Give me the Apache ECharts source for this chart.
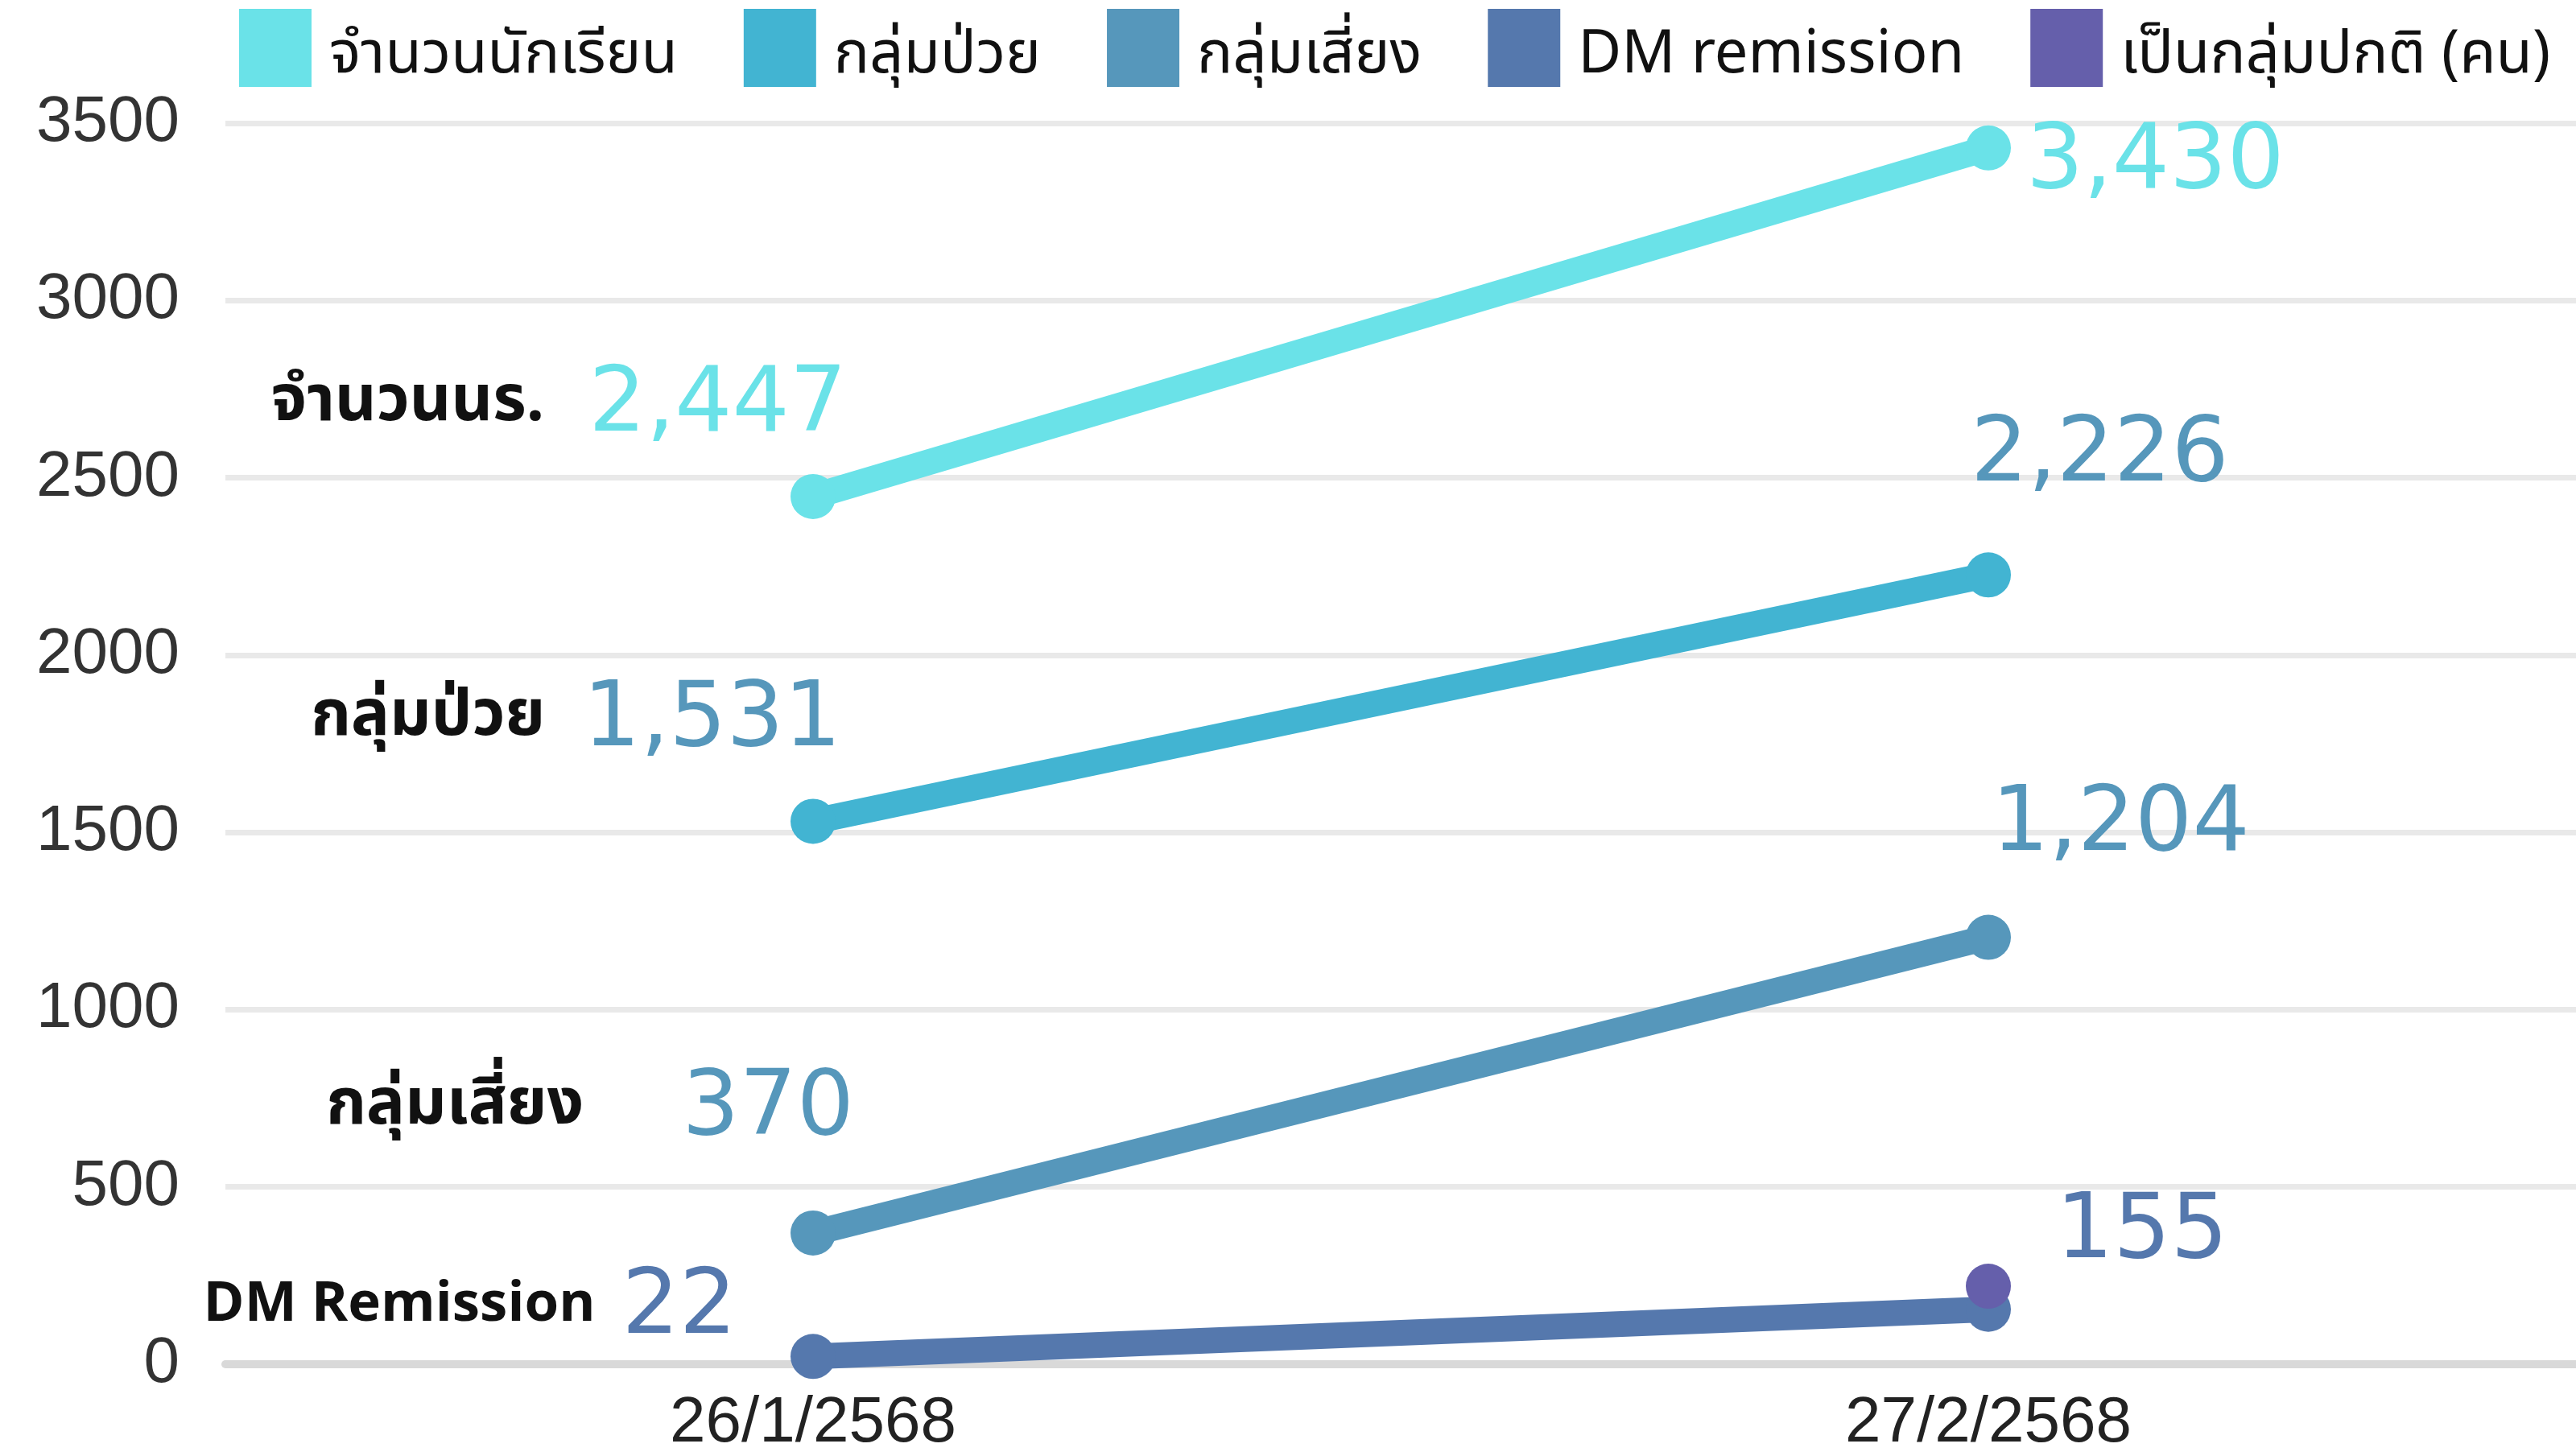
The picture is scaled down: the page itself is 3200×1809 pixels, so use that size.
<!DOCTYPE html>
<html>
<head>
<meta charset="utf-8">
<script src="https://cdn.jsdelivr.net/npm/echarts@6/dist/echarts.min.js"></script>
<style>
  html, body { margin: 0; padding: 0; background: #fff; }
  #chart { width: 3200px; height: 1809px; }
</style>
</head>
<body>
<div id="chart"></div>
<script>
// categories + values
const dates = ['26/1/2568', '27/2/2568'];
const seriesNames = ['จำนวนนักเรียน', 'กลุ่มป่วย', 'กลุ่มเสี่ยง', 'DM remission', 'เป็นกลุ่มปกติ (คน)'];
const students = [2447, 3430];
const sick = [1531, 2226];
const risk = [370, 1204];
const remission = [22, 155];
const normal = [null, 220];
const sideNotes = ['จำนวนนร.', 'กลุ่มป่วย', 'กลุ่มเสี่ยง', 'DM Remission'];
const yTicks = { min: 0, max: 3500, step: 500 };

const colors = ['#6ae2e8', '#42b4d2', '#5697bb', '#5578ad', '#655fab'];
const labelColors = ['#6ae2e8', '#5697bb', '#5697bb', '#5578ad'];
// label placement per series: [first point offset, gap after note, note size, last point offset]
const labelLayout = [
  { first: [42, -111], gap: 55, note: 80, last: [47, 20] },
  { first: [35, -124], gap: 47, note: 80, last: [-22, -146] },
  { first: [51, -152], gap: 122, note: 80, last: [4, -138] },
  { first: [-95, -58], gap: 33, note: 69, last: [84, -94] }
];

const numFont = 'DejaVu Sans';
const thaiFont = '"Noto Sans Thai", "Noto Sans", "DejaVu Sans", sans-serif';
const fmt = (v) => v.toLocaleString('en-US');

function buildPoints(values, idx) {
  const lay = labelLayout[idx];
  return values.map((v, i) => {
    if (i === 0) {
      return {
        value: v,
        label: {
          show: true,
          position: 'inside',
          align: 'right',
          verticalAlign: 'middle',
          offset: lay.first,
          formatter: '{n|' + sideNotes[idx] + '}{v|' + fmt(v) + '}',
          rich: {
            n: { fontFamily: thaiFont, fontSize: lay.note, fontWeight: 'bold', color: '#111', padding: [0, lay.gap, 0, 0] },
            v: { fontFamily: numFont, fontSize: 112, color: labelColors[idx] }
          }
        }
      };
    }
    return {
      value: v,
      label: {
        show: true,
        position: 'inside',
        align: 'left',
        verticalAlign: 'middle',
        offset: lay.last,
        formatter: fmt(v),
        fontFamily: numFont,
        fontSize: 112,
        color: labelColors[idx]
      }
    };
  });
}

const allValues = [students, sick, risk, remission, normal];
const series = allValues.map((vals, idx) => ({
  name: seriesNames[idx],
  type: 'line',
  data: idx < 4 ? buildPoints(vals, idx) : vals,
  symbol: 'circle',
  symbolSize: 56,
  showAllSymbol: true,
  connectNulls: false,
  lineStyle: { width: 32, color: colors[idx] },
  itemStyle: { color: colors[idx] },
  label: { show: false },
  emphasis: { disabled: true },
  z: 2 + idx
}));

const mychart = echarts.init(document.getElementById('chart'));
mychart.setOption({
  animation: false,
  color: colors,
  legend: {
    left: 297,
    top: 11,
    width: 2900,
    padding: 0,
    itemWidth: 90,
    itemHeight: 97,
    itemGap: 82,
    icon: 'rect',
    formatter: (name) => '{t|' + name + '}',
    textStyle: {
      fontFamily: thaiFont,
      fontSize: 74,
      color: '#111',
      rich: {
        t: { fontFamily: thaiFont, fontSize: 74, color: '#111', padding: [32, 0, 0, 17] }
      }
    },
    data: seriesNames
  },
  grid: { left: 280, right: 0, top: 153, bottom: 105 },
  xAxis: {
    type: 'category',
    data: dates,
    axisTick: { show: false },
    axisLine: { lineStyle: { color: '#d9d9d9', width: 10 } },
    axisLabel: {
      fontFamily: 'Liberation Sans',
      fontSize: 80,
      color: '#222',
      margin: 34
    }
  },
  yAxis: {
    type: 'value',
    min: yTicks.min,
    max: yTicks.max,
    interval: yTicks.step,
    axisLine: { show: false },
    axisTick: { show: false },
    splitLine: { lineStyle: { color: '#e9e9e9', width: 7 } },
    axisLabel: {
      fontFamily: 'Liberation Sans',
      fontSize: 80,
      color: '#333',
      margin: 57,
      formatter: (v) => String(v)
    }
  },
  series: series
});
</script>
</body>
</html>
